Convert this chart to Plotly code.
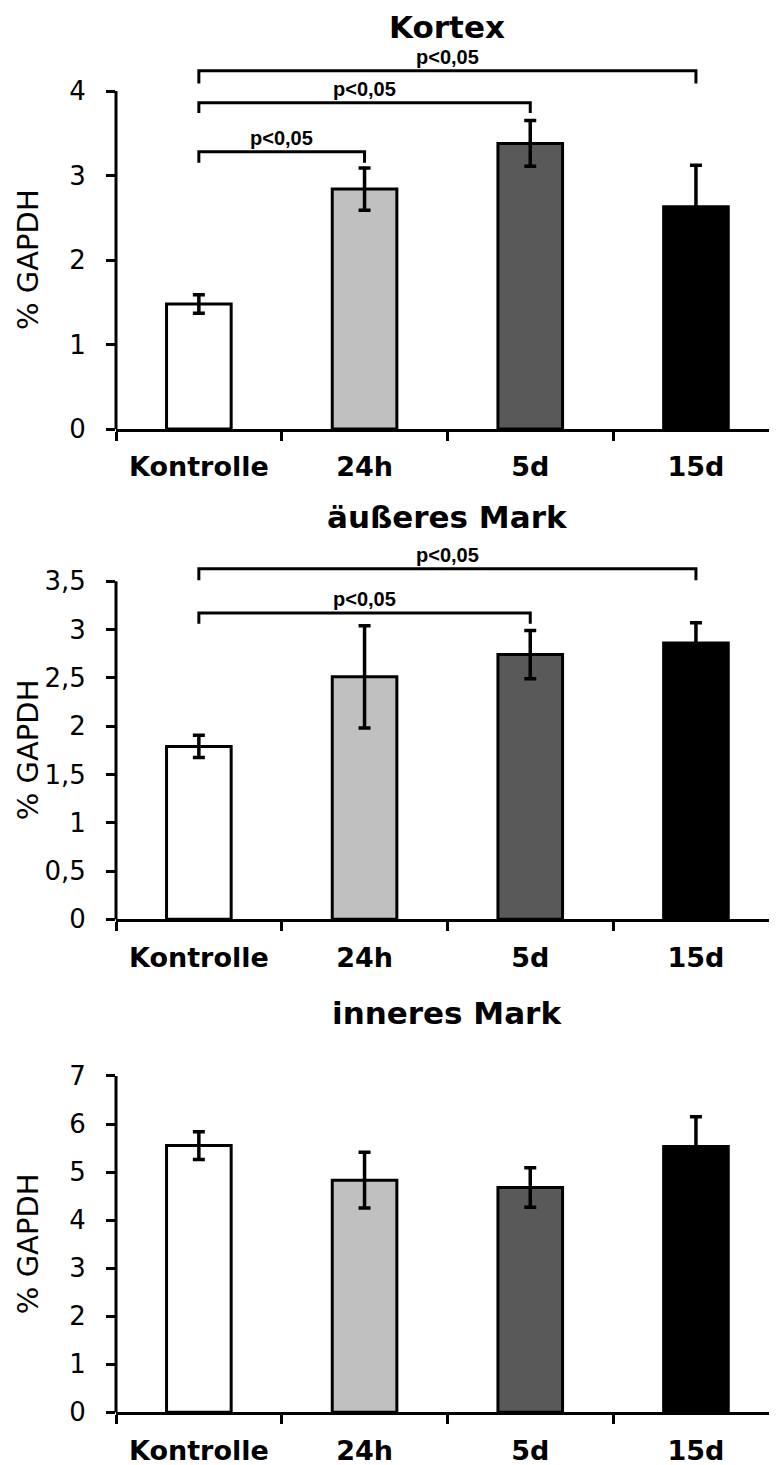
import plotly.graph_objects as go

# ---------------- data ----------------
categories = ["Kontrolle", "24h", "5d", "15d"]
bar_colors = ["#ffffff", "#c0c0c0", "#595959", "#000000"]

kortex_values = [1.48, 2.84, 3.38, 2.63]
kortex_errors = [0.11, 0.25, 0.27, 0.49]
kortex_tickvals = [0, 1, 2, 3, 4]
kortex_ticktext = ["0", "1", "2", "3", "4"]

aeusseres_values = [1.79, 2.51, 2.74, 2.86]
aeusseres_errors = [0.115, 0.53, 0.25, 0.21]
aeusseres_tickvals = [0, 0.5, 1, 1.5, 2, 2.5, 3, 3.5]
aeusseres_ticktext = ["0", "0,5", "1", "1,5", "2", "2,5", "3", "3,5"]

inneres_values = [5.55, 4.83, 4.68, 5.53]
inneres_errors = [0.29, 0.58, 0.41, 0.62]
inneres_tickvals = [0, 1, 2, 3, 4, 5, 6, 7]
inneres_ticktext = ["0", "1", "2", "3", "4", "5", "6", "7"]

sig_label = "p<0,05"
# significance comparisons: (from index, to index)
kortex_pairs = [(0, 1), (0, 2), (0, 3)]
aeusseres_pairs = [(0, 2), (0, 3)]
inneres_pairs = []

# ---------------- layout constants ----------------
# the page adds an 8px body margin at top/left; figure fills the rest of the window
OFF = 8
W, H = 777 - OFF, 1465 - OFF
FONT = "DejaVu Sans"
X_LEFT_PX = 116 - OFF


def py(ref_px):
    """reference pixel row -> paper fraction"""
    return 1 - (ref_px - OFF) / H


def px(ref_px):
    """reference pixel column -> paper fraction"""
    return (ref_px - OFF) / W


panels = [
    dict(title="Kortex", values=kortex_values, errors=kortex_errors,
         tickvals=kortex_tickvals, ticktext=kortex_ticktext,
         zero_px=429, top_px=55, unit_px=84.5, title_px=27,
         pairs=kortex_pairs, bracket_y=[3.28, 3.86, 4.24], drop=[0.13, 0.12, 0.15]),
    dict(title="äußeres Mark", values=aeusseres_values, errors=aeusseres_errors,
         tickvals=aeusseres_tickvals, ticktext=aeusseres_ticktext,
         zero_px=919.3, top_px=560, unit_px=96.6, title_px=517,
         pairs=aeusseres_pairs, bracket_y=[3.17, 3.63], drop=[0.11, 0.12]),
    dict(title="inneres Mark", values=inneres_values, errors=inneres_errors,
         tickvals=inneres_tickvals, ticktext=inneres_ticktext,
         zero_px=1412.3, top_px=1060, unit_px=48.05, title_px=1013,
         pairs=inneres_pairs, bracket_y=[], drop=[]),
]

fig = go.Figure()
layout = dict(
    width=W, height=H,
    margin=dict(l=0, r=0, t=0, b=0, autoexpand=False),
    paper_bgcolor="white", plot_bgcolor="white",
    showlegend=False,
    font=dict(family=FONT, color="black"),
    shapes=[], annotations=[],
)

x_right = (W - X_LEFT_PX) / 165.7 - 0.5

for k, p in enumerate(panels):
    n = "" if k == 0 else str(k + 1)
    xa, ya = "x" + n, "y" + n
    ymax = (p["zero_px"] - p["top_px"]) / p["unit_px"]
    axis_top = p["tickvals"][-1]

    fig.add_trace(go.Bar(
        x=categories, y=p["values"], xaxis=xa, yaxis=ya,
        width=0.39,
        marker=dict(color=bar_colors, line=dict(color="black", width=3)),
        error_y=dict(type="data", array=p["errors"], visible=True,
                     color="black", thickness=3.5, width=6),
    ))

    layout["xaxis" + n] = dict(
        domain=[X_LEFT_PX / W, 1], anchor=ya, automargin=False,
        range=[-0.5, x_right], type="category",
        showline=True, linewidth=3, linecolor="black",
        ticks="outside", tickson="boundaries", ticklen=9, tickwidth=3, tickcolor="black",
        tickfont=dict(family=FONT, size=27, color="black", weight="bold"),
        ticklabelstandoff=12,
        showgrid=False, zeroline=False, fixedrange=True,
    )
    layout["yaxis" + n] = dict(
        domain=[py(p["zero_px"]), py(p["top_px"])], anchor=xa, automargin=False,
        range=[0, ymax],
        showline=False, showgrid=False, zeroline=False,
        tickmode="array", tickvals=p["tickvals"], ticktext=p["ticktext"],
        ticks="outside", ticklen=9, tickwidth=3, tickcolor="black",
        tickfont=dict(family=FONT, size=26, color="black"),
        ticklabelstandoff=15,
    )

    # y axis line from 0 to the top tick
    layout["shapes"].append(dict(
        type="line", xref=xa + " domain", yref=ya + " domain",
        x0=0, x1=0, y0=0, y1=axis_top / ymax,
        line=dict(color="black", width=3),
    ))

    # significance brackets
    for (i, j), yb, d in zip(p["pairs"], p["bracket_y"], p["drop"]):
        layout["shapes"].append(dict(
            type="path", xref=xa, yref=ya,
            path=f"M {i},{yb - d} L {i},{yb} L {j},{yb} L {j},{yb - d}",
            line=dict(color="black", width=3),
        ))
        layout["annotations"].append(dict(
            xref=xa, yref=ya, x=(i + j) / 2, y=yb, yanchor="bottom",
            text=sig_label, showarrow=False, yshift=1,
            font=dict(family="Liberation Sans", size=20, color="black", weight="bold"),
        ))

    # panel title
    layout["annotations"].append(dict(
        xref=xa, yref="paper", x=1.5, y=py(p["title_px"]),
        xanchor="center", yanchor="middle", text=p["title"], showarrow=False,
        font=dict(family=FONT, size=31, color="black", weight="bold"),
    ))
    # y axis title
    layout["annotations"].append(dict(
        xref="paper", yref=ya, x=px(28), y=axis_top / 2,
        xanchor="center", yanchor="middle", textangle=-90,
        text="% GAPDH", showarrow=False,
        font=dict(family=FONT, size=29, color="black"),
    ))

fig.update_layout(**layout)
fig.write_html("out.html")
